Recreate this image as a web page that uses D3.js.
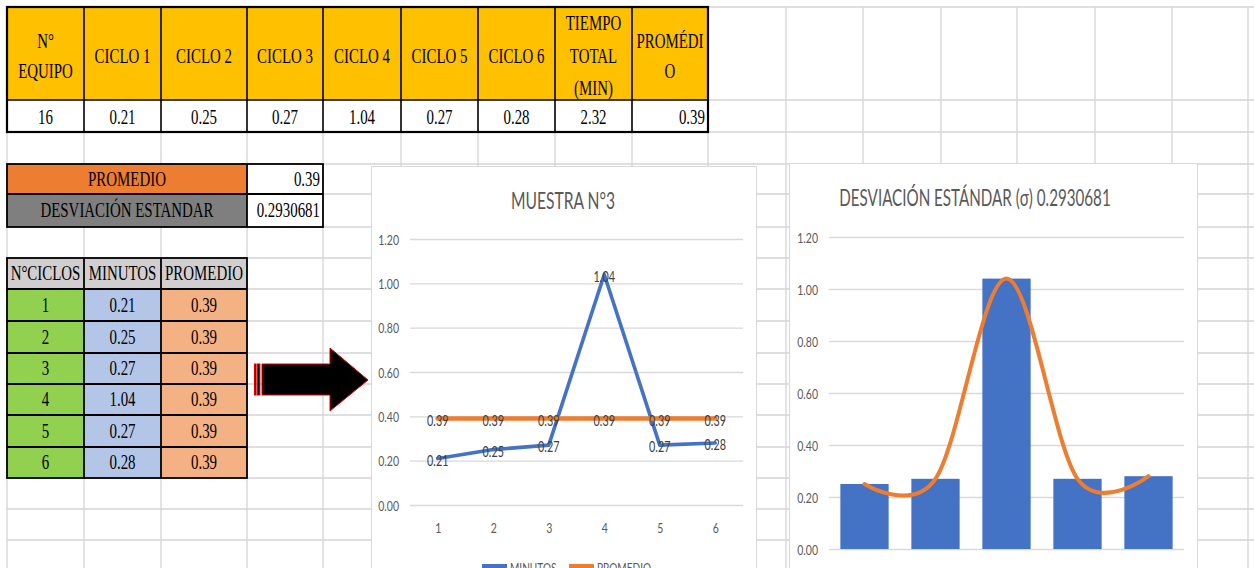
<!DOCTYPE html>
<html>
<head>
<meta charset="utf-8">
<script src="https://cdn.jsdelivr.net/npm/d3@7"></script>
<style>
  html, body { margin: 0; padding: 0; background: #fff; overflow: hidden; }
  svg { display: block; }
</style>
</head>
<body>
<svg id="sheet" width="1254" height="568"></svg>
<script>
// ---- data ----
const headerLabels = [["N°", "EQUIPO"], ["CICLO 1"], ["CICLO 2"], ["CICLO 3"], ["CICLO 4"],
                      ["CICLO 5"], ["CICLO 6"], ["TIEMPO", "TOTAL", "(MIN)"], ["PROMÉDI", "O"]];
const equipo = "16";
const cycleTimes = [0.21, 0.25, 0.27, 1.04, 0.27, 0.28];
const totalTime = 2.32;
const average = 0.39;
const stdDevText = "0.2930681";
const summaryLabels = ["PROMEDIO", "DESVIACIÓN ESTANDAR"];
const cycleHeader = ["N°CICLOS", "MINUTOS", "PROMEDIO"];
const cycleNumbers = ["1", "2", "3", "4", "5", "6"];
const minutos = [0.21, 0.25, 0.27, 1.04, 0.27, 0.28];
const promedio = [0.39, 0.39, 0.39, 0.39, 0.39, 0.39];
const yTicks = [0, 0.2, 0.4, 0.6, 0.8, 1.0, 1.2];
const lineTitle = "MUESTRA N°3";
const legendNames = ["MINUTOS", "PROMEDIO"];
const barCategories = ["1", "2", "3", "4", "5"];
const barValues = [0.25, 0.27, 1.04, 0.27, 0.28];
const barTitle = "DESVIACIÓN ESTÁNDAR (σ) 0.2930681";

// ---- layout ----
const colX = [7, 84, 161, 247, 323, 401, 478, 555, 632, 708, 786, 863, 941, 1017, 1095, 1172, 1248];
const rowY = [7, 100, 132, 164, 194, 227, 258, 289, 321, 353, 384, 415, 447, 478, 509, 540];
const W = 1254, H = 568;

const SERIF = "'Liberation Serif','Times New Roman',serif";
const SANS = "Lato,'Open Sans','Liberation Sans',sans-serif";
const fmt2 = d3.format(".2f");

const svg = d3.select("#sheet");

function label(parent, x, y, str, o) {
  return parent.append("text")
    .attr("transform", `translate(${x},${y}) scale(${o.k},1)`)
    .attr("text-anchor", o.anchor || "middle")
    .attr("dominant-baseline", "central")
    .attr("font-family", o.family)
    .attr("font-size", o.size)
    .attr("fill", o.fill || "#000")
    .text(str);
}
const cellText = { family: SERIF, size: 21, k: 0.71 };

// ---- worksheet gridlines ----
const grid = svg.append("g").attr("stroke", "#d4d4d4").attr("stroke-width", 1.3);
grid.selectAll("line.v").data(colX).join("line")
  .attr("x1", d => d).attr("x2", d => d).attr("y1", rowY[0]).attr("y2", H);
grid.selectAll("line.h").data(rowY.concat([571])).join("line")
  .attr("y1", d => d).attr("y2", d => d).attr("x1", colX[0]).attr("x2", W);

// ---- header table ----
const head = svg.append("g");
headerLabels.forEach((lines, i) => {
  const x0 = colX[i], x1 = colX[i + 1];
  head.append("rect").attr("x", x0).attr("y", rowY[0]).attr("width", x1 - x0).attr("height", rowY[1] - rowY[0])
    .attr("fill", "#FFC000");
  head.append("rect").attr("x", x0).attr("y", rowY[1]).attr("width", x1 - x0).attr("height", rowY[2] - rowY[1])
    .attr("fill", "#fff");
  const sp = lines.length === 3 ? 32.5 : 30;
  const cy = 56 - (lines.length - 1) * sp / 2;
  lines.forEach((t, j) => label(head, (x0 + x1) / 2, cy + j * sp, t, cellText));
});
const rowVals = [equipo].concat(cycleTimes.map(fmt2), [fmt2(totalTime)]);
rowVals.forEach((t, i) => label(head, (colX[i] + colX[i + 1]) / 2, 117, t, cellText));
label(head, colX[9] - 3, 117, fmt2(average), Object.assign({ anchor: "end" }, cellText));
const hb = head.append("g").attr("stroke", "#000").attr("fill", "none");
hb.append("rect").attr("x", colX[0]).attr("y", rowY[0]).attr("width", colX[9] - colX[0]).attr("height", rowY[2] - rowY[0])
  .attr("stroke-width", 2.2);
hb.append("line").attr("x1", colX[0]).attr("x2", colX[9]).attr("y1", rowY[1]).attr("y2", rowY[1]).attr("stroke-width", 1.6);
colX.slice(1, 9).forEach(x => hb.append("line").attr("x1", x).attr("x2", x).attr("y1", rowY[0]).attr("y2", rowY[2])
  .attr("stroke-width", 1.6));

// ---- summary block ----
const sum = svg.append("g");
const sumFill = ["#ED7D31", "#7F7F7F"];
const sumVals = [fmt2(average), stdDevText];
summaryLabels.forEach((t, i) => {
  const y0 = rowY[3 + i], y1 = rowY[4 + i];
  sum.append("rect").attr("x", colX[0]).attr("y", y0).attr("width", colX[3] - colX[0]).attr("height", y1 - y0).attr("fill", sumFill[i]);
  sum.append("rect").attr("x", colX[3]).attr("y", y0).attr("width", colX[4] - colX[3]).attr("height", y1 - y0).attr("fill", "#fff");
  label(sum, (colX[0] + colX[3]) / 2, (y0 + y1) / 2, t, cellText);
  label(sum, colX[4] - 3, (y0 + y1) / 2, sumVals[i], Object.assign({ anchor: "end" }, cellText));
});
const sb = sum.append("g").attr("stroke", "#000").attr("fill", "none").attr("stroke-width", 1.8);
sb.append("rect").attr("x", colX[0]).attr("y", rowY[3]).attr("width", colX[4] - colX[0]).attr("height", rowY[5] - rowY[3]);
sb.append("line").attr("x1", colX[0]).attr("x2", colX[4]).attr("y1", rowY[4]).attr("y2", rowY[4]);
sb.append("line").attr("x1", colX[3]).attr("x2", colX[3]).attr("y1", rowY[3]).attr("y2", rowY[5]);

// ---- cycle table ----
const tbl = svg.append("g");
const tCols = [colX[0], colX[1], colX[2], colX[3]];
const colFill = ["#92D050", "#B4C6E7", "#F4B183"];
cycleHeader.forEach((t, i) => {
  tbl.append("rect").attr("x", tCols[i]).attr("y", rowY[6]).attr("width", tCols[i + 1] - tCols[i])
    .attr("height", rowY[7] - rowY[6]).attr("fill", "#D0CECE");
  label(tbl, (tCols[i] + tCols[i + 1]) / 2, (rowY[6] + rowY[7]) / 2, t, cellText);
});
cycleNumbers.forEach((c, r) => {
  const y0 = rowY[7 + r], y1 = rowY[8 + r];
  const vals = [c, fmt2(minutos[r]), fmt2(promedio[r])];
  vals.forEach((t, i) => {
    tbl.append("rect").attr("x", tCols[i]).attr("y", y0).attr("width", tCols[i + 1] - tCols[i])
      .attr("height", y1 - y0).attr("fill", colFill[i]);
    label(tbl, (tCols[i] + tCols[i + 1]) / 2, (y0 + y1) / 2, t, cellText);
  });
});
const tb = tbl.append("g").attr("stroke", "#000").attr("fill", "none").attr("stroke-width", 1.8);
tb.append("rect").attr("x", tCols[0]).attr("y", rowY[6]).attr("width", tCols[3] - tCols[0]).attr("height", rowY[13] - rowY[6]);
rowY.slice(7, 13).forEach(y => tb.append("line").attr("x1", tCols[0]).attr("x2", tCols[3]).attr("y1", y).attr("y2", y));
tCols.slice(1, 3).forEach(x => tb.append("line").attr("x1", x).attr("x2", x).attr("y1", rowY[6]).attr("y2", rowY[13]));

// ---- striped arrow ----
const arrow = svg.append("g").attr("fill", "#000").attr("stroke", "#E00000").attr("stroke-width", 1);
arrow.append("rect").attr("x", 254.5).attr("y", 364).attr("width", 1.6).attr("height", 31);
arrow.append("rect").attr("x", 257.5).attr("y", 364).attr("width", 2.4).attr("height", 31);
arrow.append("path").attr("d", "M262,364 L330,364 L330,348 L368,380 L330,411 L330,395 L262,395 Z");

// ---- line chart ----
const c1 = svg.append("g");
c1.append("rect").attr("x", 371.5).attr("y", 166.5).attr("width", 385).attr("height", 420)
  .attr("fill", "#fff").attr("stroke", "#d9d9d9");
label(c1, 563, 200, lineTitle, { family: SANS, size: 23, k: 0.68, fill: "#595959" });

const x1 = d3.scalePoint().domain(cycleNumbers).range([410, 743]).padding(0.5);
const y1 = d3.scaleLinear().domain([0, 1.2]).range([505, 239]);

const ax1 = c1.append("g").attr("transform", "translate(410,0)")
  .call(d3.axisLeft(y1).tickValues(yTicks).tickFormat(fmt2).tickSize(-(743 - 410)).tickPadding(11));
ax1.select(".domain").remove();
ax1.selectAll(".tick line").attr("stroke", "#d9d9d9").attr("stroke-width", 1.3);
ax1.selectAll(".tick text").attr("font-family", SANS).attr("font-size", 14).attr("fill", "#595959")
  .attr("dy", null).attr("dominant-baseline", "central").attr("x", -11 / 0.75).attr("transform", "scale(0.75,1)");

const bx1 = c1.append("g").attr("transform", "translate(0,505)")
  .call(d3.axisBottom(x1).tickSize(0).tickPadding(0));
bx1.select(".domain").remove();
bx1.selectAll(".tick text").attr("font-family", SANS).attr("font-size", 14).attr("fill", "#595959")
  .attr("dy", null).attr("y", 23).attr("dominant-baseline", "central").attr("transform", "scale(0.75,1)");

const line1 = d3.line().x((d, i) => x1(cycleNumbers[i])).y(d => y1(d));
c1.append("path").datum(minutos).attr("d", line1).attr("fill", "none")
  .attr("stroke", "#4472C4").attr("stroke-width", 3.6).attr("stroke-linejoin", "round").attr("stroke-linecap", "round");
c1.append("path").datum(promedio).attr("d", line1).attr("fill", "none")
  .attr("stroke", "#ED7D31").attr("stroke-width", 4.6).attr("stroke-linejoin", "round").attr("stroke-linecap", "round");

const dl = { family: SANS, size: 15, k: 0.72, fill: "#404040" };
[minutos, promedio].forEach(series => {
  series.forEach((v, i) => label(c1, x1(cycleNumbers[i]), y1(v) + 1.5, fmt2(v), dl));
});

// legend (bottom, partially visible)
const legColors = ["#4472C4", "#ED7D31"];
const legX = [482, 569];
legendNames.forEach((n, i) => {
  c1.append("line").attr("x1", legX[i]).attr("x2", legX[i] + 25).attr("y1", 566).attr("y2", 566)
    .attr("stroke", legColors[i]).attr("stroke-width", 4);
  label(c1, legX[i] + 28, 568, n, { family: SANS, size: 14, k: 0.72, fill: "#595959", anchor: "start" });
});

// ---- bar chart ----
const c2 = svg.append("g");
c2.append("rect").attr("x", 789.5).attr("y", 163.5).attr("width", 408).attr("height", 420)
  .attr("fill", "#fff").attr("stroke", "#d9d9d9");
label(c2, 975, 197, barTitle, { family: SANS, size: 23, k: 0.66, fill: "#595959" });

const x2 = d3.scaleBand().domain(barCategories).range([829, 1184]).paddingInner(0.32).paddingOuter(0.16);
const y2 = d3.scaleLinear().domain([0, 1.2]).range([549, 237]);

const ax2 = c2.append("g").attr("transform", "translate(829,0)")
  .call(d3.axisLeft(y2).tickValues(yTicks).tickFormat(fmt2).tickSize(-(1184 - 829)).tickPadding(11));
ax2.select(".domain").remove();
ax2.selectAll(".tick line").attr("stroke", "#d9d9d9").attr("stroke-width", 1.3);
ax2.selectAll(".tick text").attr("font-family", SANS).attr("font-size", 14).attr("fill", "#595959")
  .attr("dy", null).attr("dominant-baseline", "central").attr("x", -11 / 0.75).attr("transform", "scale(0.75,1)");

c2.append("g").selectAll("rect").data(barValues).join("rect")
  .attr("x", (d, i) => x2(barCategories[i])).attr("width", x2.bandwidth())
  .attr("y", d => y2(d)).attr("height", d => y2(0) - y2(d))
  .attr("fill", "#4472C4");

const bx2 = c2.append("g").attr("transform", "translate(0,549)")
  .call(d3.axisBottom(x2).tickSize(0).tickPadding(0));
bx2.select(".domain").remove();
bx2.selectAll(".tick text").attr("font-family", SANS).attr("font-size", 14).attr("fill", "#595959")
  .attr("dy", null).attr("y", 24).attr("dominant-baseline", "central").attr("transform", "scale(0.75,1)");

const line2 = d3.line().curve(d3.curveCardinal.tension(0))
  .x((d, i) => x2(barCategories[i]) + x2.bandwidth() / 2).y(d => y2(d));
c2.append("path").datum(barValues).attr("d", line2).attr("fill", "none")
  .attr("stroke", "#ED7D31").attr("stroke-width", 4).attr("stroke-linecap", "round");
</script>
</body>
</html>
